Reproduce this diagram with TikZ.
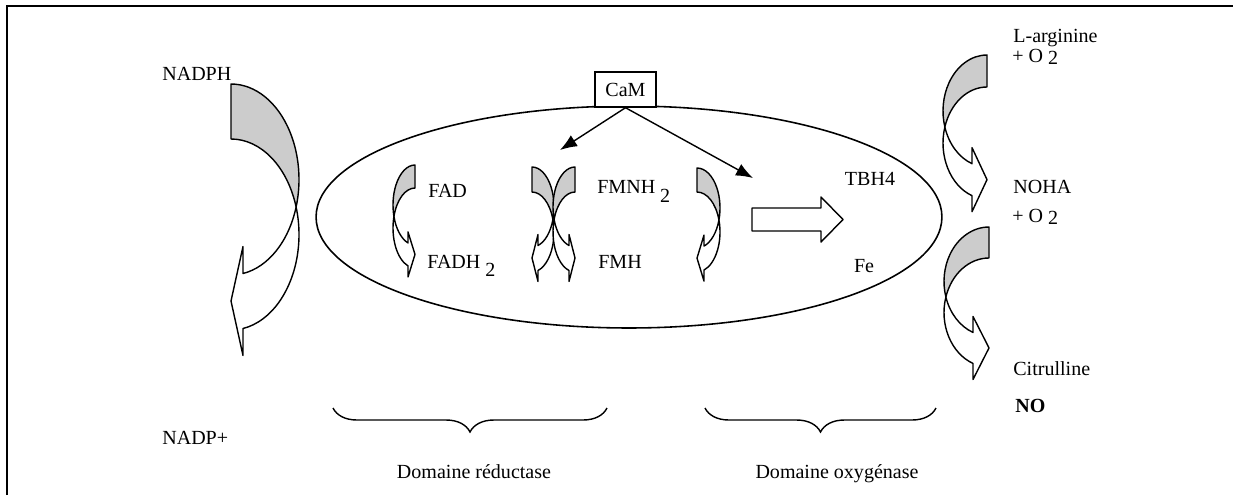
\documentclass[tikz,border=0pt]{standalone}
\usepackage{fontspec}
\setmainfont{Liberation Serif}
\usepackage{tikz}
\usetikzlibrary{decorations.pathreplacing}
\usetikzlibrary{arrows.meta, shapes.geometric, positioning}
\usepackage{xcolor}
\definecolor{bandgray}{RGB}{204,204,204}

\tikzset{
  lbl/.style={inner sep=0pt, font=\fontsize{11.4}{13}\selectfont},
  bandline/.style={line width=0.8pt, line join=round},
  camarrow/.style={line width=0.8pt, -{Latex[length=0.34cm, width=0.26cm]}},
  domainbrace/.style={decorate, decoration={brace, mirror, amplitude=0.48cm}, line width=0.8pt}
}

% curved band arrow: x, y of tail top, side (1 or -1), band, rx, ry, head x, barb
\newcommand{\bentarrow}[8]{%
  \begin{scope}[shift={(#1,-#2)}, xscale=#3, bandline]
    \pgfmathsetmacro{\bacrossa}{-asin(#4/(2*#6))}
    \pgfmathsetmacro{\bacrossb}{asin(#4/(2*#6))}
    \pgfmathsetmacro{\baend}{-acos(#7/#5)}
    \pgfmathsetmacro{\bayin}{-#6+#6*sin(\baend)}
    \pgfmathsetmacro{\bayout}{\bayin-#4}
    \pgfmathsetmacro{\baytip}{\bayin-#4/2}
    \pgfmathsetmacro{\bacx}{#5*cos(\bacrossa)}
    \pgfmathsetmacro{\bacy}{-#6-#4/2}
    \filldraw[fill=bandgray] (0,0)
      arc[start angle=90, end angle=\bacrossa, x radius=#5, y radius=#6]
      arc[start angle=\bacrossb, end angle=90, x radius=#5, y radius=#6] -- cycle;
    \filldraw[fill=white] (\bacx,\bacy)
      arc[start angle=\bacrossb, end angle=\baend, x radius=#5, y radius=#6]
      -- (#7,\bayout-#8) -- (0,\baytip) -- (#7,\bayin+#8) -- (#7,\bayin)
      arc[start angle=\baend, end angle=\bacrossa, x radius=#5, y radius=#6] -- cycle;
  \end{scope}}

\begin{document}
\begin{tikzpicture}[x=0.02cm, y=0.02cm]
  \useasboundingbox (0,0) rectangle (1233,-495);
  \draw[line width=1.1pt] (7,-495) -- (7,-6) -- (1233,-6);

  % enzyme body
  \node[draw, ellipse, minimum width=12.52cm, minimum height=4.44cm, inner sep=0pt, line width=0.9pt]
    (enzyme) at (629,-217) {};
  \node[draw, fill=white, minimum width=1.22cm, minimum height=0.7cm, inner sep=0pt, line width=0.8pt,
    font=\fontsize{11.4}{13}\selectfont] (cam) at (625.5,-89.5) {CaM};

  \coordinate (redhit) at (560,-150);
  \coordinate (oxyhit) at (753,-178);
  \draw[camarrow] (cam.south) -- (redhit);
  \draw[camarrow] (cam.south) -- (oxyhit);

  % electron transfer
  \bentarrow{231}{84}{1}{55}{68}{95.5}{12}{27}
  \bentarrow{415}{165}{-1}{23}{22}{40}{7}{11}
  \bentarrow{532}{167}{1}{25}{22}{40}{6}{11}
  \bentarrow{575}{167}{-1}{25}{22}{40}{6}{11}
  \bentarrow{697}{168}{1}{24}{23}{40}{7}{11}
  \bentarrow{987}{55}{-1}{32}{44}{56}{15}{16}
  \bentarrow{989}{227}{-1}{31}{45}{54.5}{16}{16}

  \draw[bandline] (752,-208) -- (821,-208) -- (821,-197) -- (843,-219.5)
    -- (821,-242) -- (821,-231) -- (752,-231) -- cycle;

  % labels
  \node[lbl, anchor=base west] (nadph) at (162,-80) {NADPH};
  \node[lbl, anchor=base west] (nadp) at (162,-444) {NADP+};
  \node[lbl, anchor=base west] (fad) at (428,-197) {FAD};
  \node[lbl, anchor=base west] (fadh) at (427,-268) {FADH~\raisebox{-5pt}{2}};
  \node[lbl, anchor=base west] (fmnh) at (597,-193) {FMNH~\raisebox{-5.5pt}{2}};
  \node[lbl, anchor=base west] (fmh) at (598,-268) {FMH};
  \node[lbl, anchor=base] (tbh) at (870,-185) {TBH4};
  \node[lbl, anchor=base] (fe) at (864,-272) {Fe};
  \node[lbl, anchor=base west] (larg) at (1013,-42) {L-arginine};
  \node[lbl, anchor=base west] (oxa) at (1012,-62) {+ O \raisebox{-1.7pt}{2}};
  \node[lbl, anchor=base west] (noha) at (1013,-193) {NOHA};
  \node[lbl, anchor=base west] (oxb) at (1012,-222) {+ O \raisebox{-1.7pt}{2}};
  \node[lbl, anchor=base west] (citr) at (1013,-375) {Citrulline};
  \node[lbl, anchor=base west, font=\fontsize{11.4}{13}\selectfont\bfseries] (no) at (1015,-412) {NO};

  % domains
  \draw[domainbrace] (333,-408) -- (607,-408);
  \draw[domainbrace] (705,-408) -- (936,-408);
  \node[lbl, anchor=base] (red) at (474,-478) {Domaine réductase};
  \node[lbl, anchor=base] (oxy) at (837,-478) {Domaine oxygénase};
\end{tikzpicture}
\end{document}
